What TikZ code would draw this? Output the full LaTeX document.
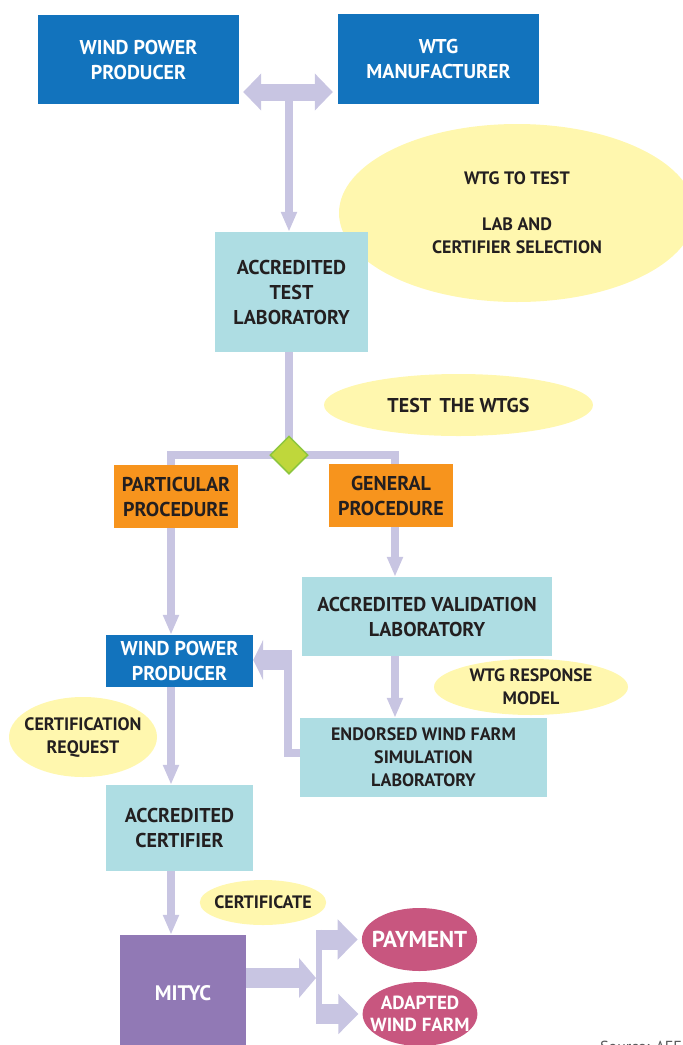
\documentclass[tikz,border=0pt]{standalone}
\usepackage{fontspec}
\setmainfont{PT Sans}
\usetikzlibrary{arrows.meta,shapes.geometric,backgrounds}
\definecolor{wpblue}{HTML}{1273BD}
\definecolor{labteal}{HTML}{AEDDE3}
\definecolor{procorange}{HTML}{F7941D}
\definecolor{noteyellow}{HTML}{FFF7AE}
\definecolor{flowlav}{HTML}{C8C5E2}
\definecolor{choicefill}{HTML}{BFD73B}
\definecolor{choiceedge}{HTML}{8DC63F}
\definecolor{mitycpurple}{HTML}{9179B5}
\definecolor{payred}{HTML}{C8567F}
\definecolor{inkdark}{HTML}{231F20}
\definecolor{srcgray}{HTML}{58595B}
\begin{document}
\begin{tikzpicture}[x=1pt,y=-1pt,
  owner/.style={rectangle, fill=wpblue, text=white, inner sep=0pt, align=center, font=\bfseries\fontsize{20}{25}\selectfont},
  lab/.style={rectangle, fill=labteal, text=inkdark, inner sep=0pt, align=center, font=\bfseries\fontsize{20}{25}\selectfont},
  proc/.style={lab, fill=procorange},
  note/.style={ellipse, fill=noteyellow, text=inkdark, inner sep=0pt, align=center, font=\bfseries\fontsize{18}{23}\selectfont},
  outcome/.style={ellipse, fill=payred, text=white, inner sep=0pt, align=center, font=\bfseries\fontsize{19}{22}\selectfont},
  trunk/.style={draw=flowlav, line width=8pt},
  flow/.style={trunk, -{Triangle[width=15pt,length=20pt]}},
  wide/.style={draw=flowlav, line width=20pt, -{Triangle[width=40pt,length=18pt]}}
]
  \useasboundingbox (0,0) rectangle (683,1045);
  \node[owner, minimum width=201, minimum height=89] (wppA) at (138.5,59.5) {WIND POWER\\PRODUCER};
  \node[owner, minimum width=201, minimum height=90] (wtgm) at (438.5,59) {WTG\\MANUFACTURER};
  \node[note, minimum width=356, minimum height=178] (select) at (517,213) {WTG TO TEST\\[23pt]LAB AND\\CERTIFIER SELECTION};
  \node[lab, minimum width=153, minimum height=120] (atl) at (291.5,292) {ACCREDITED\\TEST\\LABORATORY};
  \node[note, font=\bfseries\fontsize{20}{25}\selectfont, minimum width=269, minimum height=62] (testw) at (458.5,405) {TEST\, THE WTGS};
  \node[diamond, fill=choicefill, draw=choiceedge, line width=1.5pt, inner sep=0pt, minimum width=38, minimum height=38] (choice) at (289,455) {};
  \node[proc, minimum width=124, minimum height=63] (partp) at (176,496.5) {PARTICULAR\\PROCEDURE};
  \node[proc, minimum width=124, minimum height=63] (genp) at (391,495.5) {GENERAL\\PROCEDURE};
  \node[lab, minimum width=250, minimum height=79] (avl) at (427,616.5) {ACCREDITED VALIDATION\\LABORATORY};
  \node[owner, minimum width=147, minimum height=52] (wppB) at (179.5,661) {WIND POWER\\PRODUCER};
  \node[note, minimum width=194, minimum height=56] (resp) at (531,687) {WTG RESPONSE\\MODEL};
  \node[note, inner xsep=-7pt, minimum width=148, minimum height=80] (certreq) at (83,737) {CERTIFICATION\\REQUEST};
  \node[lab, font=\bfseries\fontsize{18}{23}\selectfont, minimum width=247, minimum height=79] (ewf) at (423.5,757.5) {ENDORSED WIND FARM\\SIMULATION\\LABORATORY};
  \node[lab, minimum width=147, minimum height=86] (acert) at (179.5,828) {ACCREDITED\\CERTIFIER};
  \node[note, inner xsep=-4pt, minimum width=126, minimum height=45] (certif) at (263,902.5) {CERTIFICATE};
  \node[rectangle, fill=mitycpurple, text=white, font=\bfseries\fontsize{21}{25}\selectfont, minimum width=126, minimum height=116] (mityc) at (183,993) {MITYC};
  \node[outcome, inner xsep=-7pt, font=\bfseries\fontsize{23}{26}\selectfont, minimum width=115, minimum height=63] (pay) at (419.5,939.5) {PAYMENT};
  \node[outcome, inner xsep=-9pt, minimum width=114, minimum height=64] (adapt) at (420,1014) {ADAPTED\\WIND FARM};
  \node[text=srcgray, font=\fontsize{16}{18}\selectfont, anchor=north west, inner sep=0pt] (src) at (600,1041) {Source: AEE};
  \coordinate (link) at (289,92);
  \coordinate (lane) at (171,0);
  \coordinate (bend) at (292,660);
  \coordinate (fork) at (319,978);
  \begin{scope}[on background layer]
    \draw[draw=flowlav, line width=17pt, {Triangle[width=36pt,length=18pt]}-{Triangle[width=36pt,length=18pt]}, shorten <=4pt, shorten >=5pt] (wppA.east |- link) -- (wtgm.west |- link);
    \draw[flow] (link) -- (link |- atl.north);
    \draw[trunk] (choice.north |- atl.south) -- (choice.center);
    \draw[trunk] (choice.center) -| (lane |- partp.north);
    \draw[trunk] (choice.center) -| ([xshift=4pt]genp.north);
    \draw[flow] (lane |- partp.south) -- (lane |- wppB.north);
    \draw[flow] ([xshift=4pt]genp.south) -- ([xshift=4pt]genp.south |- avl.north);
    \draw[flow] ([xshift=4pt]genp.south |- avl.south) -- ([xshift=4pt]genp.south |- ewf.north);
    \draw[trunk] ([shift={(9,-4.5)}]ewf.west) -| ([xshift=-4pt]bend);
    \draw[wide, -{Triangle[width=40pt,length=10pt]}] (bend) -- (wppB.east |- bend);
    \draw[flow] (lane |- wppB.south) -- (lane |- acert.north);
    \draw[flow] (lane |- acert.south) -- (lane |- mityc.north);
    \draw[wide, -{Triangle[width=39pt,length=17pt]}, shorten >=3pt] ([yshift=15pt]mityc.east) -- (fork);
    \draw[draw=flowlav, line width=6pt] ([yshift=10pt]fork |- pay.west) -- ([yshift=-10pt]fork |- adapt.west);
    \draw[wide, -{Triangle[width=39pt,length=20pt]}, shorten >=4pt] ([xshift=-3pt]fork |- pay.west) -- (pay.west);
    \draw[wide, -{Triangle[width=39pt,length=20pt]}, shorten >=4pt] ([xshift=-3pt]fork |- adapt.west) -- (adapt.west);
  \end{scope}
\end{tikzpicture}
\end{document}
